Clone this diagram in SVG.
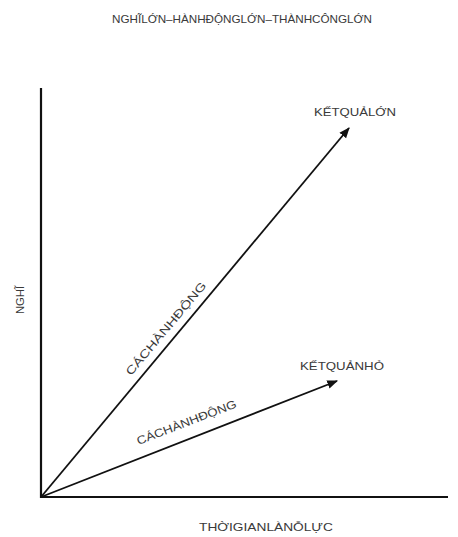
<svg xmlns="http://www.w3.org/2000/svg" width="458" height="537" viewBox="0 0 458 537">
<defs>
<marker id="ah" viewBox="0 0 10 10" refX="9" refY="5" markerWidth="6" markerHeight="6" markerUnits="strokeWidth" orient="auto">
<path d="M0,1 L10,5 L0,9 z" fill="#111"/>
</marker>
<style>
.t{font-family:"Liberation Sans","Noto Sans",sans-serif;font-size:11.5px;fill:#3a3a3a;}
.ax{stroke:#111;stroke-width:2.2;fill:none;}
.ar{stroke:#111;stroke-width:1.8;fill:none;}
</style>
</defs>
<rect width="458" height="537" fill="#fff"/>
<g id="title"><text class="t" x="242" y="23" text-anchor="middle" textLength="260" lengthAdjust="spacingAndGlyphs">NGHĨLỚN–HÀNHĐỘNGLỚN–THÀNHCÔNGLỚN</text></g>
<g id="connectors">
<path class="ax" d="M41,88 V497 H448"/>
<path class="ar" d="M41,497 L349,128" marker-end="url(#ah)"/>
<path class="ar" d="M41,497 L337,381" marker-end="url(#ah)"/>
</g>
<g id="big"><text class="t" x="355" y="116" text-anchor="middle" textLength="82" lengthAdjust="spacingAndGlyphs">KẾTQUẢLỚN</text></g>
<g id="small"><text class="t" x="342" y="370" text-anchor="middle" textLength="84" lengthAdjust="spacingAndGlyphs">KẾTQUẢNHỎ</text></g>
<g id="act1"><text class="t" transform="translate(169,331) rotate(-50)" text-anchor="middle" textLength="118" lengthAdjust="spacingAndGlyphs">CÁCHÀNHĐỘNG</text></g>
<g id="act2"><text class="t" transform="translate(188,426) rotate(-21)" text-anchor="middle" textLength="106" lengthAdjust="spacingAndGlyphs">CÁCHÀNHĐỘNG</text></g>
<g id="yl"><text class="t" transform="translate(24,300) rotate(-90)" text-anchor="middle" textLength="28" lengthAdjust="spacingAndGlyphs">NGHĨ</text></g>
<g id="xl"><text class="t" x="266" y="531" text-anchor="middle" textLength="134" lengthAdjust="spacingAndGlyphs">THỜIGIANLÀNỖLỰC</text></g>
</svg>
